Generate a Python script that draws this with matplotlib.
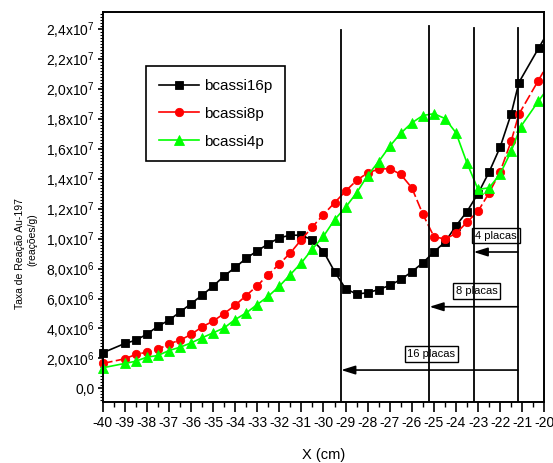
import matplotlib
matplotlib.use("Agg")
import matplotlib.pyplot as plt
from matplotlib.ticker import MultipleLocator, FixedLocator
from matplotlib.lines import Line2D
from matplotlib.patches import FancyArrowPatch

plt.rcParams['font.family'] = ['Liberation Sans', 'DejaVu Sans']
plt.rcParams['mathtext.fontset'] = 'custom'
plt.rcParams['mathtext.rm'] = 'Liberation Sans'
plt.rcParams['mathtext.it'] = 'Liberation Sans'

# ---------------- data ----------------
labels = ["bcassi16p", "bcassi8p", "bcassi4p"]

x16 = [-40, -39, -38.5, -38, -37.5, -37, -36.5, -36, -35.5, -35, -34.5, -34, -33.5, -33,
       -32.5, -32, -31.5, -31, -30.5, -30, -29.5, -29, -28.5, -28, -27.5, -27, -26.5, -26,
       -25.5, -25, -24.5, -24, -23.5, -23, -22.5, -22, -21.5, -21.15, -20.25, -19.5]
y16 = [2.38, 3.0, 3.22, 3.62, 4.15, 4.55, 5.1, 5.65, 6.22, 6.82, 7.5, 8.07, 8.68, 9.18,
       9.64, 10.05, 10.22, 10.22, 9.9, 9.13, 7.8, 6.65, 6.3, 6.38, 6.6, 6.87, 7.27, 7.78,
       8.38, 9.1, 9.76, 10.84, 11.8, 13.0, 14.43, 16.09, 18.31, 20.4, 22.71, 24.6]

x8 = [-40, -39, -38.5, -38, -37.5, -37, -36.5, -36, -35.5, -35, -34.5, -34, -33.5, -33,
      -32.5, -32, -31.5, -31, -30.5, -30, -29.5, -29, -28.5, -28, -27.5, -27, -26.5, -26,
      -25.5, -25, -24.5, -24, -23.5, -23, -22.5, -22, -21.5, -21.15, -20.27, -19.5]
y8 = [1.67, 1.98, 2.27, 2.42, 2.6, 2.98, 3.22, 3.6, 4.11, 4.49, 5.0, 5.55, 6.2, 6.85,
      7.6, 8.3, 9.04, 9.93, 10.78, 11.6, 12.38, 13.16, 13.87, 14.38, 14.62, 14.66, 14.27, 13.38,
      11.62, 10.13, 9.96, 10.34, 11.09, 11.82, 13.04, 14.45, 16.49, 18.29, 20.53, 22.5]

x4 = [-40, -39, -38.5, -38, -37.5, -37, -36.5, -36, -35.5, -35, -34.5, -34, -33.5, -33,
      -32.5, -32, -31.5, -31, -30.5, -30, -29.5, -29, -28.5, -28, -27.5, -27, -26.5, -26,
      -25.5, -25, -24.5, -24, -23.5, -23, -22.5, -22, -21.5, -21.07, -20.27, -19.5]
y4 = [1.38, 1.67, 1.82, 2.09, 2.2, 2.53, 2.75, 3.04, 3.38, 3.71, 4.04, 4.6, 5.04, 5.6,
      6.15, 6.82, 7.6, 8.38, 9.31, 10.15, 11.25, 12.08, 13.05, 14.2, 15.13, 16.15, 17.02, 17.71,
      18.2, 18.32, 18.0, 17.05, 15.03, 13.27, 13.38, 14.3, 15.82, 17.45, 19.15, 20.7]

plate_x = [-29.2, -25.2, -23.2, -21.2]
plate_top = [23.9, 24.17, 24.03, 24.03]
arrow_start = [-29.2, -25.2, -23.2]
arrow_y = [1.23, 5.45, 9.1]
box_texts = ["16 placas", "8 placas", "4 placas"]
box_x = [-25.11, -23.07, -22.19]
box_y = [2.3, 6.5, 10.2]

xticks = list(range(-40, -19))
yticks = [0, 2, 4, 6, 8, 10, 12, 14, 16, 18, 20, 22, 24]
ytick_labels = ["0,0", "2,0x10$^{6}$", "4,0x10$^{6}$", "6,0x10$^{6}$", "8,0x10$^{6}$",
                "1,0x10$^{7}$", "1,2x10$^{7}$", "1,4x10$^{7}$", "1,6x10$^{7}$",
                "1,8x10$^{7}$", "2,0x10$^{7}$", "2,2x10$^{7}$", "2,4x10$^{7}$"]
SCALE = 1e6

# ---------------- figure ----------------
fig = plt.figure(figsize=(5.53, 4.63), dpi=100)
ax = fig.add_axes([0.18571, 0.13175, 0.79855, 0.84233])

series = [
    (x16, y16, 'black', '-', 's', 6.3),
    (x8, y8, 'red', (0, (6, 2)), 'o', 6.0),
    (x4, y4, '#00FF00', '-', '^', 7.3),
]
handles = []
for (xs, ys, col, ls, mk, ms), lab in zip(series, labels):
    yv = [v * SCALE for v in ys]
    ax.plot(xs, yv, color=col, ls=ls, lw=1.2, zorder=2)
    xm = [a for a in xs if a <= -20]
    ym = [b for a, b in zip(xs, yv) if a <= -20]
    ax.plot(xm, ym, ls='none', marker=mk, ms=ms, color=col, mec=col, mew=0.6,
            clip_on=False, zorder=2)
    handles.append(Line2D([], [], color=col, ls='-', lw=1.2, marker=mk, ms=ms, mec=col, mew=0.6))

# vertical plate lines
for px, pt in zip(plate_x, plate_top):
    ax.plot([px, px], [-0.9e6, pt * SCALE], color='black', lw=1.3, zorder=4)

# arrows
for xs, yy in zip(arrow_start, arrow_y):
    arr = FancyArrowPatch((plate_x[-1], yy * SCALE), (xs, yy * SCALE),
                          arrowstyle='-|>,head_length=0.7,head_width=0.22',
                          mutation_scale=12, color='black', lw=1.2,
                          shrinkA=0, shrinkB=0, zorder=4)
    ax.add_patch(arr)

for t, bx, by in zip(box_texts, box_x, box_y):
    ax.text(bx, by * SCALE, t, ha='center', va='center', fontsize=8,
            bbox=dict(boxstyle='square,pad=0.25', fc='white', ec='black', lw=1.0), zorder=3)

ax.set_xlim(-40, -20)
ax.set_ylim(-0.9e6, 25.1e6)

ax.xaxis.set_major_locator(FixedLocator(xticks))
ax.set_xticklabels([str(v) for v in xticks])
ax.xaxis.set_minor_locator(MultipleLocator(0.5))
ax.yaxis.set_major_locator(FixedLocator([v * SCALE for v in yticks]))
ax.set_yticklabels(ytick_labels)
ax.yaxis.set_minor_locator(MultipleLocator(2e5))

ax.tick_params(axis='x', which='major', direction='out', length=7, width=1.2, labelsize=10, pad=3)
ax.tick_params(axis='x', which='minor', direction='out', length=3.5, width=1.0)
ax.tick_params(axis='y', which='major', direction='out', length=3.5, width=1.2, labelsize=10, pad=2)
ax.tick_params(axis='y', which='minor', direction='out', length=2, width=0.8)
ax.tick_params(top=False, right=False, which='both')

for sp in ax.spines.values():
    sp.set_linewidth(1.4)

leg = ax.legend(handles, labels, loc='upper left', bbox_to_anchor=(0.098, 0.8615),
                fontsize=11, frameon=True, fancybox=False, framealpha=1,
                edgecolor='black', handlelength=2.6, handletextpad=0.35,
                labelspacing=0.9, borderpad=0.85, borderaxespad=0)
leg.get_frame().set_linewidth(1.2)

fig.text(323.5 / 553, 1 - 455 / 463, "X (cm)", ha='center', va='center', fontsize=10.5)
fig.text(20 / 553, 1 - 254 / 463, "Taxa de Reação Au-197", rotation=90,
         ha='center', va='center', fontsize=7.5)
fig.text(32 / 553, 1 - 240 / 463, "(reações/g)", rotation=90,
         ha='center', va='center', fontsize=7.5)

fig.savefig("out.png", dpi=100)
